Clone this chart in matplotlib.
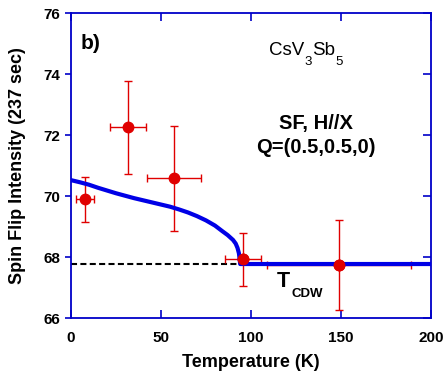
import numpy as np
import matplotlib.pyplot as plt

plt.rcParams['font.family'] = ['Liberation Sans', 'DejaVu Sans']

# Measured data (red points)
temp = [7.8, 31.5, 57.2, 95.7, 149.0]
intensity = [69.89, 72.25, 70.58, 67.92, 67.73]
temp_err = [4.8, 10.0, 15.0, 10.0, 40.0]
int_err = [0.73, 1.52, 1.72, 0.86, 1.48]

# Order-parameter guide curve (blue)
curve_t = [0, 5, 10, 15, 20, 25, 30, 35, 40, 45, 50, 55, 60, 65, 70, 75,
           80, 84, 87, 90, 91.5, 92.5, 93.3, 94.0, 100, 150, 200]
curve_y = [70.52, 70.45, 70.37, 70.27, 70.18, 70.09, 70.01, 69.93, 69.86, 69.79,
           69.72, 69.65, 69.56, 69.46, 69.34, 69.20, 69.03, 68.85, 68.72, 68.56,
           68.44, 68.30, 68.12, 67.77, 67.77, 67.77, 67.77]

# Background level (dashed)
bg_t = [0, 100]
bg_y = [67.77, 67.77]

spine_blue = '#0000c8'
red = '#e00000'

fig = plt.figure(figsize=(4.48, 3.75), dpi=100)
ax = fig.add_axes([0.1585, 0.152, 0.8035, 0.8133])

ax.plot(bg_t, bg_y, color='black', linestyle=(0, (2.9, 1.6)), linewidth=1.5, zorder=2)
ax.errorbar(temp, intensity, xerr=temp_err, yerr=int_err, fmt='o', color=red,
            markersize=7.5, elinewidth=1.0, capsize=3, capthick=1.0, zorder=3)
ax.plot(curve_t, curve_y, color='#0000e6', linewidth=3.0, zorder=4)
# points sitting on the blue line are drawn on top
ax.plot(temp[3:], intensity[3:], 'o', color=red, markersize=7.5, zorder=5)

ax.set_xlim(0, 200)
ax.set_ylim(66, 76)
ax.set_xticks([0, 50, 100, 150, 200])
ax.set_yticks([66, 68, 70, 72, 74, 76])

for s in ax.spines.values():
    s.set_color(spine_blue)
    s.set_linewidth(1.3)

ax.tick_params(axis='x', direction='in', top=True, length=6, width=1.2,
               color=spine_blue, labelsize=11, pad=9)
ax.tick_params(axis='y', direction='out', right=True, length=4, width=1.2,
               color=spine_blue, labelsize=11, pad=4)
for lab in ax.get_xticklabels() + ax.get_yticklabels():
    lab.set_fontweight('bold')

# right spine ticks point inward
for t in ax.yaxis.get_major_ticks():
    t.tick2line.set_marker(0)
    t.tick2line.set_markersize(6)

ax.set_xlabel('Temperature (K)', fontsize=13, fontweight='bold', labelpad=7)
ax.set_ylabel('Spin Flip Intensity (237 sec)', fontsize=13, fontweight='bold', labelpad=12)

ax.text(5.5, 75.0, 'b)', fontsize=15, fontweight='bold', ha='left', va='center')

# CsV3Sb5 with low-set subscripts
t1 = ax.text(110, 74.62, 'CsV', fontsize=13.5, ha='left', va='baseline')
t2 = ax.annotate('3', xy=(1, 0), xycoords=t1, xytext=(0, 2), textcoords='offset points',
                 fontsize=9.5, ha='left', va='top')
t3 = ax.annotate('Sb', xy=(1, 0), xycoords=(t2, t1), xytext=(0.5, 0), textcoords='offset points',
                 fontsize=13.5, ha='left', va='bottom')
ax.annotate('5', xy=(1, 0), xycoords=t3, xytext=(0, 2), textcoords='offset points',
            fontsize=9.5, ha='left', va='top')

ax.text(136, 72.39, 'SF, H//X', fontsize=14.5, fontweight='bold', ha='center', va='center')
ax.text(136, 71.6, 'Q=(0.5,0.5,0)', fontsize=14.5, fontweight='bold', ha='center', va='center')

# T_CDW label
tc = ax.text(114.4, 67.03, 'T', fontsize=15.5, fontweight='bold', ha='left', va='baseline')
ax.annotate('CDW', xy=(1, 0), xycoords=tc, xytext=(0.8, 2.5), textcoords='offset points',
            fontsize=9.5, fontweight='bold', ha='left', va='top')

fig.savefig('out.png', dpi=100)
